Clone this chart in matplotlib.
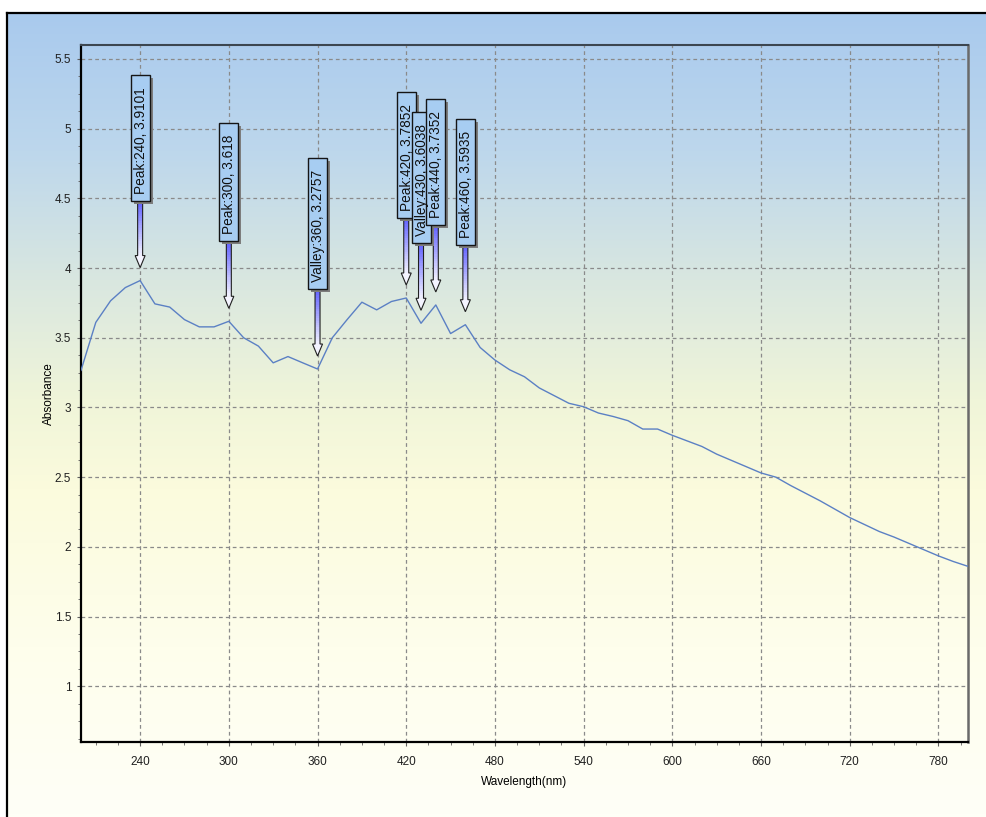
import numpy as np
import matplotlib
matplotlib.use('Agg')
import matplotlib.pyplot as plt
from matplotlib.colors import LinearSegmentedColormap
from matplotlib.patches import Rectangle, Polygon
from matplotlib.lines import Line2D
from matplotlib.transforms import IdentityTransform
from matplotlib.ticker import MultipleLocator

plt.rcParams['font.family'] = ['Liberation Sans', 'DejaVu Sans']

# spectrum, one point every 10 nm
wavelength = list(range(200, 801, 10))
absorbance = [3.266, 3.61, 3.765, 3.86, 3.9101, 3.743, 3.72, 3.63, 3.578, 3.578,
              3.618, 3.50, 3.44, 3.32, 3.365, 3.32, 3.2757, 3.50, 3.63, 3.755,
              3.70, 3.76, 3.7852, 3.6038, 3.7352, 3.53, 3.5935, 3.43, 3.34, 3.27,
              3.22, 3.14, 3.085, 3.03, 3.005, 2.96, 2.935, 2.905, 2.845, 2.845,
              2.80, 2.76, 2.72, 2.665, 2.62, 2.575, 2.53, 2.50, 2.44, 2.385,
              2.33, 2.27, 2.21, 2.16, 2.11, 2.07, 2.025, 1.98, 1.935, 1.895,
              1.86]

# picked peaks / valleys
mark_x = [240, 300, 360, 420, 430, 440, 460]
mark_kind = ['Peak', 'Peak', 'Valley', 'Peak', 'Valley', 'Peak', 'Peak']

xticks = [240, 300, 360, 420, 480, 540, 600, 660, 720, 780]
yticks = [1, 1.5, 2, 2.5, 3, 3.5, 4, 4.5, 5, 5.5]
ytick_labels = ['1', '1.5', '2', '2.5', '3', '3.5', '4', '4.5', '5', '5.5']

W, H = 987, 817
fig = plt.figure(figsize=(W / 100, H / 100), dpi=100)
fig.patch.set_facecolor('white')

# background gradient inside the outer frame
stops = [(0.0, '#a9caee'), (0.171, '#bdd7ec'), (0.333, '#d9e7e0'),
         (0.482, '#f0f5d9'), (0.594, '#fbfbdd'), (0.792, '#fefeec'),
         (1.0, '#fffff7')]
cmap = LinearSegmentedColormap.from_list('bg', stops)
bg = fig.add_axes([7 / W, 0, 1, (H - 12) / H])
bg.imshow(np.linspace(0, 1, 400).reshape(-1, 1), aspect='auto', cmap=cmap,
          extent=[0, 1, 0, 1])
bg.set_axis_off()
fig.add_artist(Line2D([7.5 / W, 7.5 / W], [0, (H - 12.5) / H], color='black',
                      lw=1.6, transform=fig.transFigure))
fig.add_artist(Line2D([7 / W, 1], [(H - 12.5) / H, (H - 12.5) / H],
                      color='black', lw=1.6, transform=fig.transFigure))

ax = fig.add_axes([81 / W, 75 / H, 887 / W, 697 / H])
ax.set_facecolor('none')
ax.plot(wavelength, absorbance, color='#5b80c4', lw=1.0, zorder=3)
ax.set_xlim(200, 800)
ax.set_ylim(0.6, 5.6)
ax.set_xticks(xticks)
ax.set_yticks(yticks)
ax.set_yticklabels(ytick_labels)
ax.xaxis.set_minor_locator(MultipleLocator(15))
ax.yaxis.set_minor_locator(MultipleLocator(0.125))
ax.grid(True, which='major', color='#8a8a8a', lw=0.9, linestyle=(0, (3, 2.5)))
ax.tick_params(which='both', direction='out', color='#606060', labelsize=8.5,
               labelcolor='#202020')
ax.tick_params(which='major', length=3)
ax.tick_params(which='minor', length=2.2)
ax.tick_params(axis='x', pad=7)
ax.tick_params(axis='y', pad=4)
for s in ['left', 'bottom']:
    ax.spines[s].set_linewidth(1.6)
    ax.spines[s].set_color('black')
ax.spines['top'].set_color('#3c4650')
ax.spines['top'].set_linewidth(1.5)
ax.spines['right'].set_color('#6a6a6a')
ax.spines['right'].set_linewidth(1.8)
ax.set_xlabel('Wavelength(nm)', fontsize=8.5, labelpad=5.5)
ax.set_ylabel('Absorbance', fontsize=8.5, labelpad=0)

# callouts with arrows, drawn in pixels
renderer = fig.canvas.get_renderer()
ident = IdentityTransform()
gap, arrow_len, head_len = 13, 67, 12
shaft_top = np.array([0x60, 0x60, 0xff]) / 255
shaft_bot = np.array([0xee, 0xee, 0xff]) / 255
for x, kind in zip(mark_x, mark_kind):
    y = absorbance[wavelength.index(x)]
    px, py = ax.transData.transform((x, y))
    tip = py + gap
    base = tip + arrow_len
    # shaft with vertical gradient
    n = 24
    seg = (base - tip - head_len) / n
    for i in range(n):
        f = i / (n - 1)
        c = shaft_top * (1 - f) + shaft_bot * f
        ax.add_patch(Rectangle((px - 2.5, base - (i + 1) * seg), 5, seg + 0.5,
                               transform=ident, facecolor=c, edgecolor='none',
                               clip_on=False, zorder=5))
    ax.add_patch(Polygon([(px - 5, tip + head_len), (px, tip),
                          (px + 5, tip + head_len)], closed=True,
                         transform=ident, facecolor='#f4f4ff', edgecolor='none',
                         clip_on=False, zorder=5))
    outline = [(px - 2.5, base), (px - 2.5, tip + head_len),
               (px - 5, tip + head_len), (px, tip), (px + 5, tip + head_len),
               (px + 2.5, tip + head_len), (px + 2.5, base)]
    ax.add_patch(Polygon(outline, closed=False, transform=ident,
                         facecolor='none', edgecolor='#202020', lw=0.8,
                         clip_on=False, zorder=6))
    label = f'{kind}:{x}, {y:g}'
    t = ax.text(px + 0.5, base + 7, label, rotation=90, ha='center',
                va='bottom', fontsize=9.8, color='#101010', transform=ident,
                zorder=9, clip_on=False)
    L = t.get_window_extent(renderer).height
    bh = L + 19
    ax.add_patch(Rectangle((px - 9.5 + 3, base - 3), 19, bh, transform=ident,
                           facecolor='#7d7d7d', edgecolor='none',
                           clip_on=False, zorder=7))
    ax.add_patch(Rectangle((px - 9.5, base), 19, bh, transform=ident,
                           facecolor='#a7cdf2', edgecolor='#151515', lw=1.0,
                           clip_on=False, zorder=8))

fig.savefig('out.png', dpi=100)
